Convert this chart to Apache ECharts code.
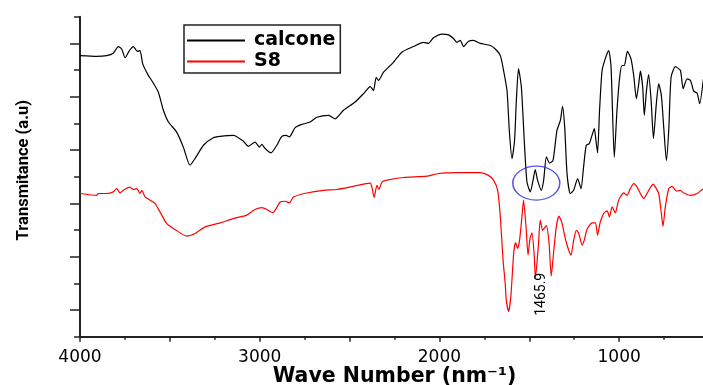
<!DOCTYPE html>
<html>
<head>
<meta charset="utf-8">
<script src="https://cdn.jsdelivr.net/npm/echarts@6/dist/echarts.min.js"></script>
<style>
html,body{margin:0;padding:0;background:#fff;}
#chart{width:703px;height:385px;}
</style>
</head>
<body>
<div id="chart"></div>
<script>
// Wave numbers (x) and transmittance (arbitrary units)
var calconeWave = [4000,3907,3851,3815,3787,3768,3749,3725,3703,3681,
  3666,3651,3620,3601,3564,3536,3508,3462,3425,3388,
  3360,3313,3258,3220,3146,3091,3063,3026,3002,2988,
  2970,2938,2905,2877,2853,2835,2803,2766,2719,2682,
  2617,2580,2534,2469,2423,2385,2367,2352,2339,2311,
  2256,2209,2144,2089,2061,2033,1986,1949,1922,1903,
  1884,1866,1838,1810,1773,1717,1689,1661,1643,1624,
  1610,1596,1582,1572,1560,1544,1528,1513,1494,1479,
  1467,1454,1433,1420,1405,1387,1368,1346,1327,1315,
  1303,1290,1272,1253,1231,1212,1198,1183,1166,1151,
  1138,1129,1120,1109,1095,1077,1058,1045,1027,1012,
  997,984,971,954,934,919,904,891,882,869,
  860,848,836,822,809,793,780,765,752,737,
  724,711,687,659,644,622,603,585,566,552,531];
var calconeT = [10.54,10.51,10.54,10.63,10.88,10.79,10.46,10.73,10.88,10.70,
  10.73,10.23,9.80,9.61,9.17,8.49,8.05,7.67,7.11,6.43,
  6.68,7.18,7.46,7.51,7.55,7.33,7.14,7.30,7.11,7.21,
  7.06,6.89,7.18,7.51,7.55,7.49,7.84,7.96,8.05,8.23,
  8.30,8.17,8.49,8.80,9.11,9.38,9.23,9.73,9.61,9.92,
  10.29,10.67,10.88,11.04,11.00,11.21,11.35,11.32,11.18,11.04,
  11.11,10.88,11.08,11.11,11.00,10.92,10.79,10.54,9.98,9.23,
  7.61,6.68,7.36,8.86,10.05,9.36,7.36,5.80,5.43,5.87,
  6.27,5.87,5.49,5.87,6.74,6.51,6.61,7.74,8.11,8.64,
  7.86,6.12,5.37,5.49,5.93,5.55,6.36,7.18,7.24,7.55,
  7.80,7.36,6.89,8.49,9.98,10.43,10.73,10.11,6.73,8.49,
  9.73,10.17,10.17,10.70,10.42,9.80,8.92,9.48,9.96,9.36,
  8.30,9.23,9.83,8.86,7.43,8.74,9.48,9.05,7.86,6.61,
  7.74,9.73,10.13,9.98,9.30,9.67,9.61,9.21,9.13,8.74,9.67];

var s8Wave = [4000,3907,3898,3851,3815,3796,3777,3759,3725,3703,
  3684,3666,3656,3638,3610,3582,3555,3517,3471,3406,
  3360,3304,3220,3146,3072,3026,2988,2960,2927,2886,
  2859,2835,2812,2738,2645,2571,2478,2385,2376,2363,
  2348,2337,2320,2292,2200,2070,2005,1903,1828,1773,
  1727,1699,1676,1661,1646,1634,1628,1615,1602,1587,
  1576,1565,1554,1541,1532,1518,1507,1496,1485,1472,
  1466,1450,1439,1426,1416,1405,1390,1378,1365,1350,
  1335,1318,1300,1281,1268,1253,1238,1225,1206,1194,
  1179,1151,1132,1120,1105,1086,1067,1054,1039,1021,
  1003,975,956,938,919,900,882,863,845,830,
  811,798,780,765,756,743,724,705,681,659,
  641,603,566,531];
var s8T = [5.37,5.30,5.37,5.37,5.43,5.55,5.39,5.49,5.61,5.52,
  5.55,5.37,5.49,5.24,5.12,4.99,4.68,4.24,4.02,3.77,
  3.87,4.12,4.27,4.43,4.56,4.77,4.84,4.77,4.65,5.05,
  5.08,5.02,5.24,5.39,5.49,5.52,5.64,5.76,5.61,5.22,
  5.68,5.52,5.80,5.87,5.97,6.02,6.12,6.15,6.15,6.15,
  6.05,5.87,5.49,4.49,2.87,2.00,1.37,0.94,1.56,3.12,
  3.53,3.31,3.62,4.49,5.12,4.11,3.06,3.69,3.89,2.99,
  2.19,3.36,4.37,3.99,4.07,4.17,3.51,2.27,3.13,4.11,
  4.52,4.26,3.69,3.25,3.06,3.62,3.99,3.88,3.43,3.62,
  4.02,4.27,4.27,3.81,4.30,4.62,4.72,4.49,4.87,4.64,
  5.12,5.39,5.30,5.55,5.74,5.61,5.37,5.18,5.37,5.55,
  5.72,5.61,5.37,4.62,4.14,4.87,5.55,5.64,5.46,5.49,
  5.39,5.30,5.37,5.55];

var seriesNames = ['calcone', 'S8'];
var xTickLabels = [4000, 3000, 2000, 1000];
var annotatedPeak = [1465.9, 2.19];
var annotationText = '1465.9';
var circledRegion = [1461, 5.76];

function pairs(xs, ys) {
  var out = [];
  for (var i = 0; i < xs.length; i++) out.push([xs[i], ys[i]]);
  return out;
}

var chart = echarts.init(document.getElementById('chart'), null, {renderer: 'canvas'});
var axisColor = '#222';
chart.setOption({
  animation: false,
  backgroundColor: '#fff',
  grid: {left: 80, top: 16.7, width: 629, height: 320, containLabel: false, outerBoundsMode: 'none'},
  legend: {
    data: seriesNames,
    orient: 'vertical',
    left: 184, top: 25,
    borderColor: '#222', borderWidth: 1.5,
    padding: [6, 5, 2, 2],
    itemWidth: 58, itemHeight: 20, itemGap: 2,
    itemStyle: {opacity: 0},
    textStyle: {fontFamily: 'DejaVu Sans', fontWeight: 'bold', fontSize: 19, color: '#000', padding: [0,0,0,4]}
  },
  xAxis: {
    type: 'value', inverse: true, min: 500, max: 4000, interval: 500,
    name: 'Wave Number (nm\u207B\u00B9)', nameLocation: 'middle', nameGap: 29,
    nameMoveOverlap: false,
    nameTextStyle: {fontFamily: 'DejaVu Sans', fontWeight: 'bold', fontSize: 20.5, color: '#000', lineHeight: 22},
    axisLine: {show: true, onZero: false, lineStyle: {color: axisColor, width: 2}},
    axisTick: {show: true, length: 5, lineStyle: {color: axisColor, width: 1.5}},
    minorTick: {show: true, splitNumber: 2, length: 3, lineStyle: {color: axisColor, width: 1.5}},
    axisLabel: {
      color: '#000', fontFamily: 'DejaVu Sans', fontSize: 17, margin: 12,
      formatter: function (v) { return xTickLabels.indexOf(v) >= 0 ? String(v) : ''; }
    },
    splitLine: {show: false}
  },
  yAxis: [{
    type: 'value', min: 0, max: 12,
    name: 'Transmitance (a.u)', nameLocation: 'middle', nameGap: 48,
    nameMoveOverlap: false,
    nameTextStyle: {fontFamily: 'Roboto', fontWeight: 'bold', fontSize: 16.5, color: '#000', padding: [0,0,0,13]},
    axisLine: {show: true, onZero: false, lineStyle: {color: axisColor, width: 2}},
    axisTick: {show: true, length: 10, customValues: [1,3,5,7,9,11], lineStyle: {color: axisColor, width: 1.5}},
    axisLabel: {show: false},
    splitLine: {show: false}
  }, {
    type: 'value', min: 0, max: 12, position: 'left',
    axisLine: {show: false},
    axisTick: {show: true, length: 6, customValues: [0,2,4,6,8,10,12], lineStyle: {color: axisColor, width: 1.5}},
    axisLabel: {show: false},
    splitLine: {show: false}
  }],
  series: [{
    name: seriesNames[0], type: 'line', symbol: 'none', smooth: 0.2,
    data: pairs(calconeWave, calconeT),
    lineStyle: {color: '#000', width: 1.2}, itemStyle: {color: '#000'}
  }, {
    name: seriesNames[1], type: 'line', symbol: 'none', smooth: 0.2,
    data: pairs(s8Wave, s8T),
    lineStyle: {color: '#ff0000', width: 1.2}, itemStyle: {color: '#ff0000'}
  }, {
    name: 'circle', type: 'scatter', symbol: 'circle', symbolSize: [47, 34], z: 5,
    data: [circledRegion],
    itemStyle: {color: 'rgba(0,0,0,0)', borderColor: '#2a2ae0', borderWidth: 1.3},
    silent: true
  }]
});

// Peak annotation, positioned through the chart's own scales
var peakPx = chart.convertToPixel({gridIndex: 0}, annotatedPeak);
chart.setOption({
  graphic: [{
    type: 'text',
    x: peakPx[0] + 6, y: peakPx[1] + 16,
    rotation: Math.PI / 2,
    z: 10,
    style: {
      text: annotationText,
      align: 'center', verticalAlign: 'middle',
      font: '14px Roboto', fill: '#000'
    }
  }]
});
</script>
</body>
</html>
